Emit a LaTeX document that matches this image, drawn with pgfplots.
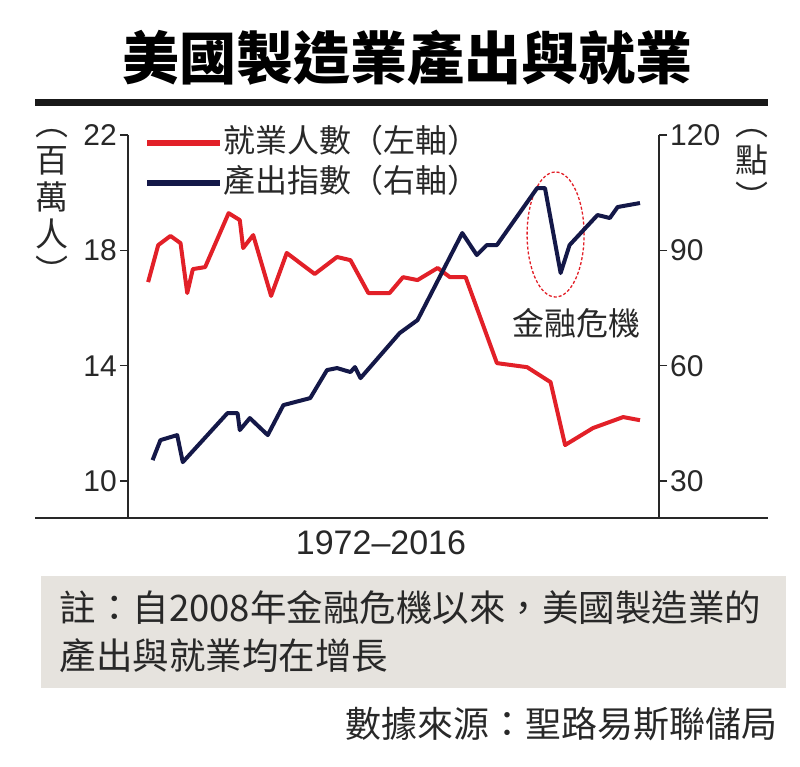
\documentclass[border=0pt]{standalone}
\usepackage{fontspec}
\usepackage{pgfplots}
\pgfplotsset{compat=1.18}
\setmainfont{Liberation Sans}
\newfontfamily\cjk{Noto Sans CJK TC}

\definecolor{empred}{RGB}{226,32,40}
\definecolor{outnavy}{RGB}{20,24,72}
\definecolor{boxgray}{RGB}{230,227,222}
\definecolor{inkgray}{RGB}{40,40,40}

\pgfplotstableread{
year  jobs
1972.0 16.90
1972.9 18.18
1974.0 18.50
1974.9 18.25
1975.5 16.52
1976.0 17.35
1977.1 17.42
1979.2 19.29
1980.2 19.05
1980.5 18.08
1981.4 18.53
1983.0 16.42
1984.4 17.91
1986.9 17.18
1988.9 17.77
1990.1 17.66
1991.7 16.52
1993.6 16.52
1994.8 17.07
1996.1 16.97
1997.9 17.39
1999.0 17.07
2000.4 17.07
2003.2 14.09
2005.9 13.95
2008.0 13.43
2009.3 11.25
2011.8 11.84
2014.5 12.22
2016.0 12.11
}\jobsdata

\pgfplotstableread{
year  output
1972.4 35.45
1973.1 40.65
1974.6 41.96
1975.1 34.93
1979.1 47.68
1980.0 47.68
1980.2 43.26
1981.1 46.38
1982.7 41.96
1984.1 49.76
1986.5 51.58
1988.0 58.87
1988.9 59.39
1990.1 58.35
1990.5 59.65
1991.0 56.78
1994.5 68.49
1996.1 71.87
2000.1 94.51
2001.4 88.78
2002.3 91.38
2003.2 91.38
2006.8 106.21
2007.5 106.21
2008.9 84.10
2009.7 91.38
2012.2 99.19
2013.3 98.41
2014.0 101.27
2016.0 102.31
}\outputdata

\pgfplotsset{
  twin/.style={
    at={(128pt,-518pt)}, anchor=south west,
    scale only axis, width=531pt, height=383pt,
    xmin=1970.2, xmax=2017.7,
    axis x line=none,
    axis line style={-, line width=2pt, color=inkgray},
    tick align=outside, major tick length=8pt,
    tick style={line width=1.5pt, color=inkgray},
    yticklabel style={font=\fontsize{30}{30}\selectfont, text=inkgray, inner sep=3pt},
    /pgf/number format/assume math mode=true,
    clip=false,
  }
}

\begin{document}
\begin{tikzpicture}
\path[use as bounding box] (0pt,0pt) rectangle (800pt,-767pt);

% title and rule
\node[font=\cjk\bfseries\fontsize{57}{57}\selectfont, text=black] at (407pt,-58pt) {美國製造業產出與就業};
\fill[black!90] (35pt,-99pt) rectangle (768pt,-106pt);

% left axis: employment
\begin{axis}[twin, ymin=8.72, ymax=22, axis y line*=left, ytick={10,14,18,22}]
  \addplot[empred, line width=4pt, line join=round] table[x=year, y=jobs] {\jobsdata};
  \draw[empred, line width=1.3pt, dash pattern=on 3pt off 2pt]
    (axis cs:2008.45,18.55) ellipse [x radius=28.5pt, y radius=62.5pt];
  \node[font=\cjk\fontsize{32}{32}\selectfont, text=inkgray] at (axis cs:2010.3,15.48) {金融危機};
\end{axis}

% right axis: output index
\begin{axis}[twin, ymin=20.4, ymax=120, axis y line*=right, ytick={30,60,90,120},
  legend style={at={(0.025,1.03)}, anchor=north west, draw=none, fill=none,
    font=\cjk\fontsize{32}{32}\selectfont, text=inkgray, row sep=6pt,
    nodes={inner sep=0pt, text height=27pt, text depth=7pt}},
  legend cell align=left,
  legend image code/.code={\draw[#1, line width=6pt] (0pt,0pt) -- (73pt,0pt);},
]
  \addlegendimage{empred}
  \addlegendentry{就業人數（左軸）}
  \addplot[outnavy, line width=4pt, line join=round] table[x=year, y=output] {\outputdata};
  \addlegendentry{產出指數（右軸）}
\end{axis}

% bottom baseline
\draw[inkgray, line width=2pt] (35pt,-518pt) -- (768pt,-518pt);

% axis units
\node[font=\cjk\fontsize{33}{37}\selectfont, text=inkgray, align=center, anchor=north] at (52pt,-126pt) {︵\\百\\萬\\人\\︶};
\node[font=\cjk\fontsize{33}{37}\selectfont, text=inkgray, align=center, anchor=north] at (752pt,-126pt) {︵\\點\\︶};

\node[font=\fontsize{34}{34}\selectfont, text=inkgray] at (381pt,-543pt) {1972--2016};

% note box
\fill[boxgray] (41pt,-576pt) rectangle (786pt,-688pt);
\node[anchor=west, font=\cjk\fontsize{36.5}{36.5}\selectfont, text=inkgray] at (56pt,-608pt) {註：自2008年金融危機以來，美國製造業的};
\node[anchor=west, font=\cjk\fontsize{36.5}{36.5}\selectfont, text=inkgray] at (56pt,-656pt) {產出與就業均在增長};

\node[anchor=east, font=\cjk\fontsize{36}{36}\selectfont, text=inkgray] at (781pt,-724pt) {數據來源：聖路易斯聯儲局};
\end{tikzpicture}
\end{document}
